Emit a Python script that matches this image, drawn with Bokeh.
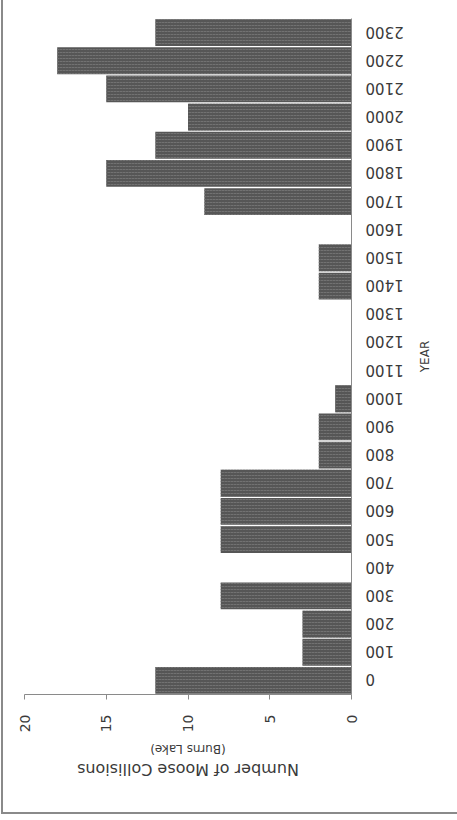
from bokeh.plotting import figure
from bokeh.models import FactorRange, Range1d, FixedTicker, LinearAxis, ColumnDataSource, CustomJS
from bokeh.embed import file_html
from bokeh.resources import INLINE
import math

years = ["0", "100", "200", "300", "400", "500", "600", "700", "800", "900", "1000", "1100",
         "1200", "1300", "1400", "1500", "1600", "1700", "1800", "1900", "2000", "2100", "2200", "2300"]
collisions = [12, 3, 3, 8, 0, 8, 8, 8, 2, 2, 1, 0, 0, 0, 2, 2, 0, 9, 15, 12, 10, 15, 18, 12]
value_ticks = [0, 5, 10, 15, 20]
value_title = "Number of Moose Collisions"
value_subtitle = "(Burns Lake)"
cat_title = "YEAR"

# The reference is an ordinary column chart turned 90 degrees counter-clockwise.
# Build it upright (820 wide, 457 tall) and rotate the finished figure with CSS.
W, H = 820, 457
TEXT = "#3a3a3a"
GRAY = "#8a8a8a"
p = figure(width=W, height=H, output_backend="svg", toolbar_location=None,
           x_range=FactorRange(factors=years, range_padding=0),
           y_range=Range1d(0, 20),
           min_border_left=125, min_border_right=19, min_border_top=24, min_border_bottom=106)
p.css_classes = ["rot-fig"]
p.styles = {
    "background": ("linear-gradient(#8a8a8a,#8a8a8a) 6px 1px / 2px calc(100% - 1px) no-repeat, "
                   "linear-gradient(#8a8a8a,#8a8a8a) 6px 1px / calc(100% - 6px) 2px no-repeat, white"),
}
p.border_fill_color = None
p.background_fill_color = None
p.outline_line_color = None
p.xgrid.visible = False
p.ygrid.visible = False

src = ColumnDataSource(dict(x=years, top=collisions))
p.vbar(x="x", top="top", bottom=0, width=0.95, source=src,
       fill_color="#565656", line_color=None,
       hatch_pattern=":", hatch_color="#727272", hatch_scale=3, hatch_weight=1)

ax = p.xaxis[0]
ax.axis_line_color = GRAY
ax.major_tick_line_color = None
ax.major_label_orientation = math.pi / 2
ax.major_label_standoff = 8
ax.major_label_text_font = "DejaVu Sans"
ax.major_label_text_font_size = "15px"
ax.major_label_text_color = TEXT
ax.axis_label = cat_title
ax.axis_label_standoff = 11
ax.axis_label_text_font = "DejaVu Sans"
ax.axis_label_text_font_size = "12px"
ax.axis_label_text_font_style = "normal"
ax.axis_label_text_color = TEXT

ay = p.yaxis[0]
ay.ticker = FixedTicker(ticks=value_ticks)
ay.axis_line_color = GRAY
ay.major_tick_line_color = GRAY
ay.major_tick_out = 5
ay.major_tick_in = 0
ay.minor_tick_line_color = None
ay.major_label_standoff = 15
ay.major_label_text_font = "DejaVu Sans"
ay.major_label_text_font_size = "14px"
ay.major_label_text_color = TEXT
ay.axis_label = value_subtitle
ay.axis_label_standoff = 7
ay.axis_label_text_font = "DejaVu Sans"
ay.axis_label_text_font_size = "12px"
ay.axis_label_text_font_style = "normal"
ay.axis_label_text_color = TEXT

ay2 = LinearAxis(ticker=FixedTicker(ticks=[]), axis_label=value_title)
ay2.axis_line_color = None
ay2.major_tick_line_color = None
ay2.minor_tick_line_color = None
ay2.major_label_standoff = 0
ay2.axis_label_standoff = 0
ay2.axis_label_text_font = "DejaVu Sans"
ay2.axis_label_text_font_size = "16px"
ay2.axis_label_text_font_style = "normal"
ay2.axis_label_text_color = TEXT
p.add_layout(ay2, "left")

# Turn the figure only after Bokeh has laid it out (inner_width is set by the view),
# so that Bokeh does not re-measure the rotated box.
p.js_on_change("inner_width", CustomJS(code="""
    function findEl() {
        let el = document.querySelector('.rot-fig');
        if (el) return el;
        try { if (Bokeh.index && Bokeh.index.find_one) { const v = Bokeh.index.find_one(cb_obj); if (v) return v.el; } } catch (e) {}
        try { for (const v of Bokeh.index) { if (v.model && v.model.id == cb_obj.id) return v.el; } } catch (e) {}
        try { const v = Bokeh.index[cb_obj.id]; if (v) return v.el; } catch (e) {}
        for (const e of document.body.querySelectorAll('*')) { if (e.shadowRoot) return e; }
        return null;
    }
    function rot() {
        const el = findEl();
        if (!el) { setTimeout(rot, 20); return; }
        el.style.transformOrigin = '0 0';
        el.style.transform = 'translate(0px, 820px) rotate(-90deg)';
    }
    setTimeout(rot, 0);
"""))

open("out.html", "w").write(file_html(p, INLINE))
